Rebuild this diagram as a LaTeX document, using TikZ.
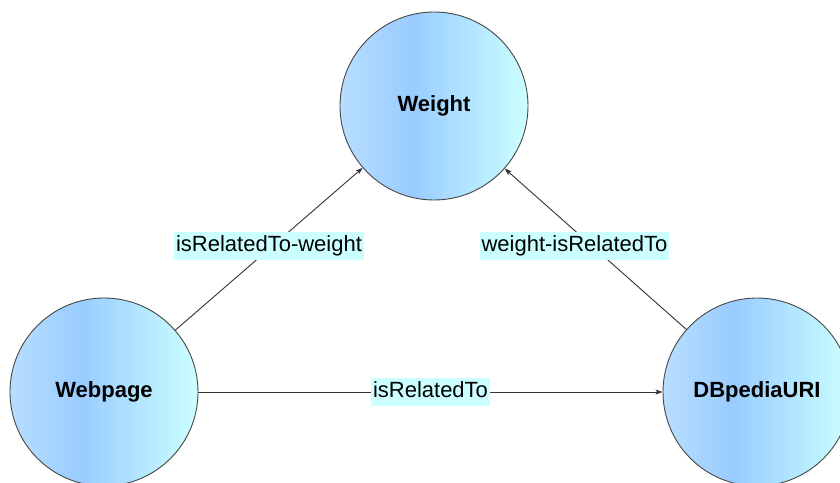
\documentclass[tikz,border=0pt]{standalone}
\usepackage{fontspec}
\setmainfont{Liberation Sans}
\usetikzlibrary{arrows.meta}
\definecolor{shA}{RGB}{184,222,255}
\definecolor{shB}{RGB}{153,204,255}
\definecolor{shC}{RGB}{204,255,255}
\definecolor{lblbg}{RGB}{204,255,255}
\definecolor{edgec}{RGB}{51,51,51}
\definecolor{rimc}{RGB}{70,70,70}
\pgfdeclarehorizontalshading{nodeshade}{100bp}{color(0bp)=(shA); color(25bp)=(shA); color(44bp)=(shB); color(75bp)=(shC); color(100bp)=(shC)}
\tikzset{
  entity/.style={circle, draw=rimc, line width=0.9pt, shading=nodeshade, minimum size=188pt, inner sep=0pt, font=\fontsize{22}{26}\selectfont\bfseries},
  conn/.style={draw=edgec, line width=0.9pt, -{Stealth[length=7pt,width=5pt,inset=1.5pt]}},
  lbl/.style={fill=lblbg, font=\fontsize{22}{26}\selectfont, text=black, inner xsep=2pt, inner ysep=3pt, text height=16.5pt, text depth=5.5pt}
}
\begin{document}
\begin{tikzpicture}[x=1pt,y=-1pt]
\useasboundingbox (0,0) rectangle (840,482);
\clip (0,0) rectangle (840,482);
\node[entity] (weight) at (434,106) {Weight};
\node[entity] (web) at (104,392) {Webpage};
\node[entity] (db) at (757,392) {DBpediaURI};
\draw[conn] (web) -- node[lbl, yshift=3pt] {isRelatedTo-weight} (weight);
\draw[conn] (db) -- node[lbl, xshift=-21pt, yshift=3pt] {weight-isRelatedTo} (weight);
\draw[conn] (web) -- node[lbl] {isRelatedTo} (db);
\end{tikzpicture}
\end{document}
